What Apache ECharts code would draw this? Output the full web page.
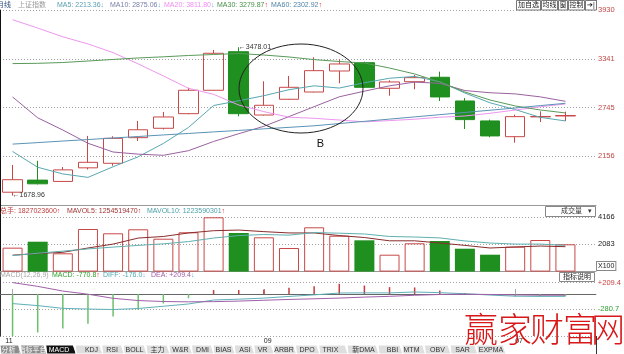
<!DOCTYPE html>
<html>
<head>
<meta charset="utf-8">
<title>上证指数 月线</title>
<script src="https://cdn.jsdelivr.net/npm/echarts@6/dist/echarts.min.js"></script>
<style>
html,body{margin:0;padding:0;background:#fff;}
#chart{width:624px;height:354px;}
</style>
</head>
<body>
<div id="chart"></div>
<script>
// 月线数据 2008-11 .. 2010-09
var months = ['2008-11','2008-12','2009-01','2009-02','2009-03','2009-04','2009-05','2009-06','2009-07','2009-08','2009-09','2009-10',
              '2009-11','2009-12','2010-01','2010-02','2010-03','2010-04','2010-05','2010-06','2010-07','2010-08','2010-09'];
var xLabelIdx = [0, 10, 20];

var opens  = [1719, 1866, 1850, 2015, 2070, 2381, 2495, 2672, 2956, 3424, 2656, 2847, 2935, 3190, 3291, 2980, 3060, 3114, 2826, 2584, 2393, 2633, 2644];
var closes = [1871, 1821, 1990, 2082, 2373, 2477, 2632, 2956, 3405, 2672, 2774, 2992, 3194, 3275, 2992, 3057, 3109, 2875, 2600, 2402, 2636, 2638, 2650];
var lows   = [1678.96, 1814, 1844, 1995, 2040, 2341, 2480, 2665, 2950, 2640, 2650, 2840, 2930, 3041, 2985, 2890, 2968, 2826, 2486, 2386, 2320, 2571, 2583];
var highs  = [2050, 2100, 2025, 2402, 2398, 2583, 2693, 2987, 3445, 3478.01, 3065, 3130, 3356, 3332, 3303, 3077, 3142, 3182, 2862, 2600, 2660, 2701, 2696];

var ma5  = [2213.36, 2022, 1941, 1899, 2028, 2149, 2311, 2505, 2771, 2829, 2890, 2963, 3010, 2983, 3047, 3102, 3124, 3060, 2923, 2804, 2722, 2627, 2584];
var ma10 = [2875.06, 2622, 2474, 2313, 2207, 2181, 2167, 2223, 2335, 2429, 2519, 2637, 2757, 2877, 2945, 3010, 3055, 3040, 2953, 2926, 2912, 2876, 2822];
var ma20 = [3811.80, 3711, 3605, 3518, 3413, 3276, 3130, 2980, 2907, 2777, 2697, 2629, 2616, 2595, 2573, 2588, 2605, 2629, 2644, 2677, 2716, 2756, 2790];
var ma30 = [3279.87, 3283, 3293, 3311, 3330, 3348, 3362, 3378, 3390, 3402, 3384, 3360, 3328, 3305, 3287, 3226, 3154, 3057, 2935, 2838, 2766, 2717, 2681];
var ma60 = [2302.92, 2321, 2340, 2358, 2377, 2395, 2414, 2432, 2451, 2469, 2488, 2506, 2525, 2552, 2579, 2606, 2633, 2660, 2687, 2714, 2741, 2770, 2798];

// 成交量 (x100万手)
var vol     = [1827, 2281, 1396, 3250, 2922, 3227, 2510, 2998, 4143, 2945, 2617, 1801, 3380, 2739, 2388, 1290, 2159, 2335, 1747, 1290, 1900, 2411, 2083];
var mavol5  = [1254.5, 1380, 1470, 1800, 2100, 2560, 2680, 2950, 3120, 3170, 3050, 2950, 2950, 2750, 2600, 2350, 2350, 2180, 2000, 1800, 1880, 1950, 1900];
var mavol10 = [1223.6, 1400, 1560, 1730, 1870, 2000, 2120, 2290, 2560, 2750, 2830, 2780, 2980, 2930, 2870, 2680, 2640, 2570, 2340, 2180, 2100, 2100, 2000];

// MACD(12,26,9)
var macd = [-770.8, -706, -634, -545, -413, -293, -174, -78, 72, 72, 84, 114, 144, 186, 156, 126, 120, 66, 18, -20, -48, -45, -40];
var dif  = [-176.0, -213, -263, -276, -285, -266, -225, -183, -110, -95, -75, -45, -16, 18, 21, 20, 37, 24, 5, -19, -40, -44, -43];
var dea  = [209.4, 140, 54, -4, -79, -120, -138, -144, -140, -130, -115, -100, -88, -75, -57, -43, -23, -9, -4, -9, -16, -22, -23];

var priceTicks = [2156, 2745, 3341, 3930];
var volTicks   = [2083, 4166];
var macdTicks  = [209.4, -280.7];

var RED = '#c84848', GREEN = '#1f8f1f';
var FONT = '"Liberation Sans","Noto Sans CJK SC",sans-serif';
var FS = 7;

function nearest(list, v, tol) {
  for (var i = 0; i < list.length; i++) {
    if (Math.abs(list[i] - v) < tol) return list[i];
  }
  return null;
}

var ohlc = months.map(function (m, i) { return [opens[i], closes[i], lows[i], highs[i]]; });
var volData = vol.map(function (v, i) {
  var up = closes[i] >= opens[i];
  return {value: v, itemStyle: up ? {color: 'rgba(255,255,255,0)', borderColor: RED, borderWidth: 1} : {color: GREEN}};
});
var macdData = macd.map(function (v) {
  return {value: v, itemStyle: {color: v >= 0 ? '#c43c3c' : '#6cc06c'}};
});

function maLine(name, data, color, xi, yi) {
  return {name: name, type: 'line', xAxisIndex: xi, yAxisIndex: yi, data: data, symbol: 'none',
          lineStyle: {color: color, width: 1}, z: 5, silent: true};
}

var dotted = {show: true, lineStyle: {color: '#a0a0a0', type: [1, 2], width: 1}};

// ---- graphic: headers, boxes, tabs, watermark ----
var elems = [];
function rt(x, y, parts, size) {
  var rich = {}, s = '';
  parts.forEach(function (p, i) {
    rich['p' + i] = {fill: p[1], fontSize: size || FS, fontFamily: FONT};
    s += '{p' + i + '|' + p[0] + '}';
  });
  elems.push({type: 'text', x: x, y: y, z: 50, silent: true,
              style: {text: s, rich: rich, fontSize: size || FS, fontFamily: FONT, verticalAlign: 'middle'}});
}
function box(x, w, s) {
  elems.push({type: 'rect', z: 49, silent: true, shape: {x: x + 0.5, y: 0.5, width: w, height: 9.5},
              style: {fill: '#fff', stroke: '#777', lineWidth: 1}});
  elems.push({type: 'text', z: 50, silent: true, x: x + w / 2 + 0.5, y: 5.5,
              style: {text: s, fill: '#222', fontSize: FS, fontFamily: FONT, align: 'center', verticalAlign: 'middle'}});
}
var DN = '#5ab0dc', UP = '#e02020';

rt(-3, 5, [['月线', '#2a4d7a']]);
rt(18, 5, [['上证指数', '#9a9a9a']]);
rt(57, 5, [['MA5: 2213.36', '#5a9fb0'], ['↓', DN]]);
rt(110, 5, [['MA10: 2875.06', '#7a80a8'], ['↓', DN]]);
rt(164, 5, [['MA20: 3811.80', '#f08cf0'], ['↓', DN]]);
rt(217, 5, [['MA30: 3279.87', '#4a8f4a'], ['↑', UP]]);
rt(271, 5, [['MA60: 2302.92', '#4f82a8'], ['↑', UP]]);

rt(0, 211, [['总手: 1827023600', '#c03c3c'], ['↑', UP]]);
rt(67, 211, [['MAVOL5: 1254519470', '#a03434'], ['↑', UP]]);
rt(147, 211, [['MAVOL10: 1223590301', '#4aa0a8'], ['↑', UP]]);

rt(0, 275.5, [['MACD(12,26,9)', '#a8a8a8']]);
rt(52, 275.5, [['MACD: -770.8', '#2e9e2e'], ['↑', UP]]);
rt(103, 275.5, [['DIFF: -176.0', '#4aa8b0'], ['↓', DN]]);
rt(151, 275.5, [['DEA: +209.4', '#a05aa8'], ['↓', DN]]);

box(516, 24, '加自选');
box(541, 16, '均线');
box(558, 9, '窗');
box(568, 16, '控制');
box(585, 11, '➔|');
elems.push({type: 'rect', z: 49, silent: true, shape: {x: 545.5, y: 206.5, width: 50, height: 10},
            style: {fill: '#fff', stroke: '#888', lineWidth: 1}});
rt(561, 211.5, [['成交量', '#333']]);
rt(588, 211.5, [['▾', '#333']]);
elems.push({type: 'text', x: 597, y: 262, z: 50, silent: true,
            style: {text: 'X100', fill: '#222', fontSize: FS, fontFamily: FONT, verticalAlign: 'top',
                    backgroundColor: '#fff', borderColor: '#888', borderWidth: 1, padding: [1, 1, 0, 1]}});
elems.push({type: 'rect', z: 49, silent: true, shape: {x: 559.5, y: 272.5, width: 35, height: 9},
            style: {fill: '#fff', stroke: '#888', lineWidth: 1}});
elems.push({type: 'text', z: 50, silent: true, x: 577, y: 277.3,
            style: {text: '指标说明', fill: '#222', fontSize: FS, fontFamily: FONT, align: 'center', verticalAlign: 'middle'}});

// 左边框 / 右轴延长
elems.push({type: 'line', z: 40, silent: true, shape: {x1: 0.5, y1: 10, x2: 0.5, y2: 271}, style: {stroke: '#111', lineWidth: 1}});
elems.push({type: 'line', z: 40, silent: true, shape: {x1: 596.5, y1: 0, x2: 596.5, y2: 10}, style: {stroke: '#333', lineWidth: 1}});
elems.push({type: 'line', z: 40, silent: true, shape: {x1: 596.5, y1: 336, x2: 596.5, y2: 354}, style: {stroke: '#333', lineWidth: 1}});

// 圈注 B
elems.push({type: 'ellipse', z: 30, silent: true, shape: {cx: 301, cy: 88.5, rx: 62, ry: 44.5},
            style: {fill: 'none', stroke: '#222', lineWidth: 1}});
elems.push({type: 'text', z: 30, silent: true, x: 320.5, y: 143.5,
            style: {text: 'B', fill: '#111', fontSize: 11, fontFamily: FONT, align: 'center', verticalAlign: 'middle'}});

// 底部指标标签
var tabNames = ['分析', '指标平台', 'MACD', 'KDJ', 'RSI', 'BOLL', '主力', 'W&R', 'DMI', 'BIAS', 'ASI', 'VR', 'ARBR', 'DPO', 'TRIX', '新DMA', 'BBI', 'MTM', 'OBV', 'SAR', 'EXPMA'];
var tabCenters = [8.5, 32.5, 59, 91.5, 112, 134.5, 157.5, 180.5, 202.5, 223.5, 245, 262.5, 284, 307, 330.5, 363.5, 392.5, 411.5, 437.5, 462.5, 491];
tabNames.forEach(function (n, i) {
  var l = i === 0 ? 0 : (tabCenters[i - 1] + tabCenters[i]) / 2;
  var r = i === tabNames.length - 1 ? 505 : (tabCenters[i] + tabCenters[i + 1]) / 2;
  var fill = i < 2 ? '#8c8c8c' : (n === 'MACD' ? '#111' : '#dedede');
  var tc = (i < 2 || n === 'MACD') ? '#fff' : '#333';
  elems.push({type: 'polygon', z: 20, silent: true,
              shape: {points: [[l, 345], [r - 2, 345], [r + 1, 354], [l + 1, 354]]},
              style: {fill: fill, stroke: '#fff', lineWidth: 1}});
  elems.push({type: 'text', z: 21, silent: true, x: tabCenters[i], y: 349.8,
              style: {text: n, fill: tc, fontSize: 7, fontFamily: FONT, align: 'center', verticalAlign: 'middle'}});
});

// 水印
var wm = ['赢', '家', '财', '富', '网'];
var wmX = [481, 515, 547, 580, 608];
wm.forEach(function (c, i) {
  elems.push({type: 'text', z: 200, silent: true, x: wmX[i], y: 329,
              style: {text: c, fill: '#d81818', fontSize: 34, fontWeight: 300, fontFamily: '"Noto Sans CJK SC"',
                      align: 'center', verticalAlign: 'middle'}});
});

var chart = echarts.init(document.getElementById('chart'));
var option = {
  animation: false,
  backgroundColor: '#fff',
  grid: [
    {left: 0, right: 46, top: 10, height: 195},
    {left: 0, right: 28, top: 10, height: 195},
    {left: 0, right: 46, top: 205, height: 66.6},
    {left: 0, right: 28, top: 205, height: 66.6},
    {left: 0, right: 46, top: 271.6, height: 64.4},
    {left: 0, right: 28, top: 271.6, height: 64.4}
  ],
  xAxis: [
    {type: 'category', gridIndex: 0, data: months, show: false},
    {type: 'value', gridIndex: 1, min: 0, max: 1, axisLine: {show: true, lineStyle: {color: '#999'}}, axisTick: {show: false}, axisLabel: {show: false}, splitLine: {show: false}},
    {type: 'category', gridIndex: 2, data: months, show: false},
    {type: 'value', gridIndex: 3, min: 0, max: 1, axisLine: {show: true, lineStyle: {color: '#999'}}, axisTick: {show: false}, axisLabel: {show: false}, splitLine: {show: false}},
    {type: 'category', gridIndex: 4, data: months,
     axisLine: {show: false},
     axisTick: {show: true, inside: true, length: 5, alignWithLabel: true, lineStyle: {color: '#aaa'},
                interval: function (i) { return xLabelIdx.indexOf(i) >= 0; }},
     axisLabel: {show: true, align: 'left', alignMinLabel: 'right', margin: 2, fontSize: FS, fontFamily: FONT, color: '#222',
                 interval: function (i) { return xLabelIdx.indexOf(i) >= 0; },
                 formatter: function (v) { return v.slice(5); }}},
    {type: 'value', gridIndex: 5, min: 0, max: 1, axisLine: {show: true, lineStyle: {color: '#666'}}, axisTick: {show: false}, axisLabel: {show: false}, splitLine: {show: false}}
  ],
  yAxis: [
    {type: 'value', gridIndex: 0, min: 1564, max: 3930, show: false},
    {type: 'value', gridIndex: 1, position: 'right', min: 1564, max: 3930, interval: 591.5,
     axisLine: {show: true, lineStyle: {color: '#333'}}, axisTick: {show: false}, splitLine: dotted,
     axisLabel: {margin: 2, fontSize: 7.5, fontFamily: FONT, color: '#c04848',
                 formatter: function (v) { var t = nearest(priceTicks, v, 20); return t === null ? '' : String(t); }}},
    {type: 'value', gridIndex: 2, min: 0, max: 5082, show: false},
    {type: 'value', gridIndex: 3, position: 'right', min: 0, max: 5082, interval: 2083,
     axisLine: {show: true, lineStyle: {color: '#333'}}, axisTick: {show: false}, splitLine: dotted,
     axisLabel: {margin: 2, fontSize: 7.5, fontFamily: FONT, color: '#222',
                 formatter: function (v) { var t = nearest(volTicks, v, 5); return t === null ? '' : String(t); }}},
    {type: 'value', gridIndex: 4, min: -770.8, max: 411, show: false},
    {type: 'value', gridIndex: 5, position: 'right', min: -770.8, max: 411, interval: 490.1,
     axisLine: {show: true, lineStyle: {color: '#333'}}, axisTick: {show: false},
     splitLine: {show: true, lineStyle: {color: '#a0a0a0', type: [1, 2], width: 1}},
     axisLabel: {margin: 2, fontSize: 7.5, fontFamily: FONT,
                 color: function (v) { return Number(v) > 0 ? '#d04040' : '#2e9e2e'; },
                 formatter: function (v) { var t = nearest(macdTicks, v, 2); return t === null ? '' : (t > 0 ? '+' : '') + t.toFixed(1); }}}
  ],
  graphic: {elements: elems},
  series: [
    {type: 'line', xAxisIndex: 1, yAxisIndex: 1, data: [], silent: true},
    {type: 'line', xAxisIndex: 3, yAxisIndex: 3, data: [], silent: true},
    {type: 'line', xAxisIndex: 5, yAxisIndex: 5, data: [], silent: true},
    {name: '月线', type: 'candlestick', xAxisIndex: 0, yAxisIndex: 0, data: ohlc, barWidth: 20, z: 3,
     itemStyle: {color: 'rgba(255,255,255,0)', color0: GREEN, borderColor: RED, borderColor0: GREEN, borderWidth: 1},
     markPoint: {symbol: 'circle', symbolSize: 0, silent: true,
                 label: {show: true, position: 'right', distance: 0, fontSize: FS, fontFamily: FONT, color: '#333',
                         formatter: function (p) { return '←' + p.value.toFixed(2); }},
                 data: [{coord: [9, highs[9]], value: highs[9]}, {coord: [0, lows[0]], value: lows[0]}]}},
    maLine('MA5', ma5, '#58a8b0', 0, 0),
    maLine('MA10', ma10, '#9a62a0', 0, 0),
    maLine('MA20', ma20, '#ee96ee', 0, 0),
    maLine('MA30', ma30, '#5a9a5a', 0, 0),
    maLine('MA60', ma60, '#5b93b5', 0, 0),
    {name: 'VOL', type: 'bar', xAxisIndex: 2, yAxisIndex: 2, data: volData, barWidth: 20, z: 3},
    maLine('MAVOL5', mavol5, '#8a2c2c', 2, 2),
    maLine('MAVOL10', mavol10, '#5fb0b0', 2, 2),
    {name: 'MACD', type: 'bar', xAxisIndex: 4, yAxisIndex: 4, data: macdData, barWidth: 1.5, z: 3},
    maLine('DIFF', dif, '#5fb0b8', 4, 4),
    maLine('DEA', dea, '#a060a8', 4, 4)
  ]
};
chart.setOption(option);
</script>
</body>
</html>
